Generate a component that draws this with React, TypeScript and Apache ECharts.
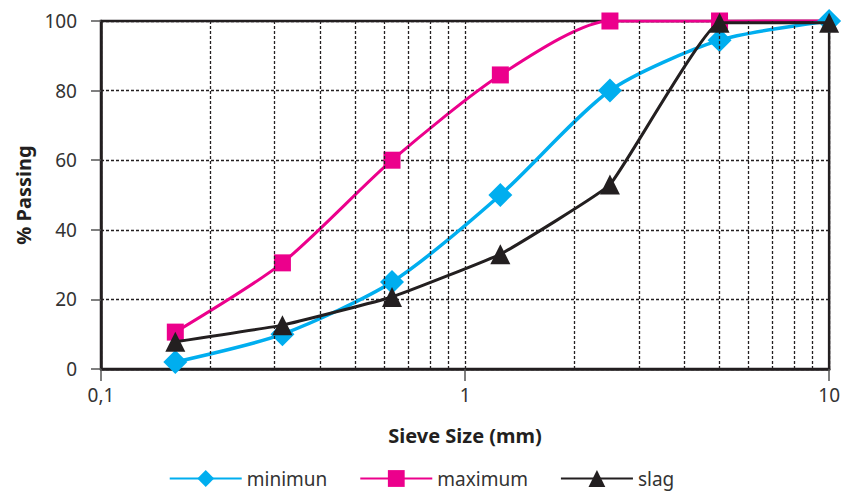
import React, { useEffect, useRef } from "react";
import * as echarts from "echarts";

const sieveSizes = [0.16, 0.315, 0.63, 1.25, 2.5, 5, 10];
const minimumValues = [2, 10, 25, 50, 80, 94.5, 100];
const maximumValues = [10.6, 30.5, 60, 84.5, 100, 100, 100.5];
const slagValues = [7.8, 12.6, 20.7, 33, 53, 99.5, 99.5];
const minorGridSizes = [0.2, 0.3, 0.4, 0.5, 0.6, 0.7, 0.8, 0.9, 2, 3, 4, 5, 6, 7, 8, 9];
const legendNames = ["minimun", "maximum", "slag"];

const FONT = "Noto Sans";

export default function App() {
  const ref = useRef<HTMLDivElement>(null);
  useEffect(() => {
    if (!ref.current) return;
    const chart = echarts.init(ref.current, undefined, { renderer: "svg" });
    const pair = (vals: number[]) => sieveSizes.map((s, i) => [s, vals[i]]);
    chart.setOption({
      animation: false,
      textStyle: { fontFamily: FONT },
      grid: {
        left: 101,
        right: 11,
        top: 21,
        bottom: 123,
        show: true,
        borderColor: "#231f20",
        borderWidth: 2.5,
      },
      legend: {
        data: legendNames,
        bottom: -1,
        left: "center",
        itemWidth: 72,
        itemHeight: 21,
        itemGap: 32,
        textStyle: { fontSize: 19, color: "#333", fontFamily: FONT },
      },
      xAxis: {
        type: "log",
        logBase: 10,
        min: 0.1,
        max: 10,
        name: "Sieve Size (mm)",
        nameLocation: "middle",
        nameGap: 56,
        nameTextStyle: { fontSize: 20, fontWeight: "bold", color: "#231f20" },
        axisLine: { show: true, lineStyle: { color: "#231f20", width: 2.5 } },
        axisTick: { show: true, length: 12, lineStyle: { color: "#555", width: 1.5 } },
        axisLabel: {
          fontSize: 19,
          color: "#333",
          margin: 16,
          formatter: (v: number) => String(v).replace(".", ","),
        },
        splitLine: { show: true, lineStyle: { color: "#231f20", type: [3, 2], width: 1.3 } },
      },
      yAxis: {
        type: "value",
        min: 0,
        max: 100,
        interval: 20,
        name: "% Passing",
        nameLocation: "middle",
        nameGap: 68,
        nameTextStyle: { fontSize: 20, fontWeight: "bold", color: "#231f20" },
        axisLine: { show: true, lineStyle: { color: "#231f20", width: 2.5 } },
        axisTick: { show: true, length: 10, lineStyle: { color: "#555", width: 1.5 } },
        axisLabel: { fontSize: 19, color: "#333", margin: 24 },
        splitLine: { show: true, lineStyle: { color: "#231f20", type: [3, 2], width: 1.3 } },
      },
      series: [
        {
          name: "gridMinor",
          type: "line",
          data: [],
          silent: true,
          z: 1,
          markLine: {
            silent: true,
            symbol: "none",
            label: { show: false },
            lineStyle: { color: "#231f20", type: [3, 2], width: 1.3 },
            data: minorGridSizes.map((v) => ({ xAxis: v })),
          },
        },
        {
          name: "minimun",
          type: "line",
          data: pair(minimumValues),
          smooth: 0.25,
          symbol: "diamond",
          symbolSize: 24,
          lineStyle: { color: "#00aeef", width: 3.5 },
          itemStyle: { color: "#00aeef" },
          z: 3,
        },
        {
          name: "maximum",
          type: "line",
          data: pair(maximumValues),
          smooth: 0.25,
          symbol: "rect",
          symbolSize: 17,
          lineStyle: { color: "#ec008c", width: 3 },
          itemStyle: { color: "#ec008c" },
          z: 2,
        },
        {
          name: "slag",
          type: "line",
          data: pair(slagValues),
          smooth: 0.1,
          symbol: "triangle",
          symbolSize: 20,
          lineStyle: { color: "#231f20", width: 3 },
          itemStyle: { color: "#231f20" },
          z: 4,
        },
      ],
    });
    return () => chart.dispose();
  }, []);
  return <div ref={ref} style={{ width: 843, height: 492, position: "absolute", left: 0, top: 0 }} />;
}
